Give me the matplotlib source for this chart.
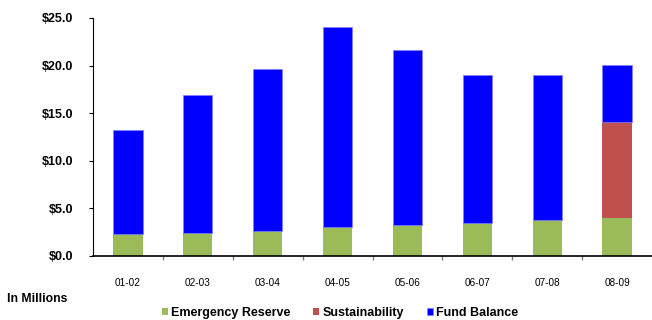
import matplotlib
matplotlib.use("Agg")
import matplotlib.pyplot as plt
import numpy as np
from matplotlib.ticker import FuncFormatter, FixedLocator

years = ["01-02", "02-03", "03-04", "04-05", "05-06", "06-07", "07-08", "08-09"]
emergency_reserve = [2.3, 2.45, 2.65, 3.0, 3.25, 3.5, 3.8, 4.0]
sustainability = [0, 0, 0, 0, 0, 0, 0, 10.1]
fund_balance = [10.9, 14.45, 16.95, 21.1, 18.35, 15.5, 15.2, 6.0]

green = "#9BBB59"
red = "#C0504D"
blue = "#0000FF"

plt.rcParams["font.family"] = ["Liberation Sans", "DejaVu Sans"]

fig = plt.figure(figsize=(6.52, 3.2), dpi=100)
ax = fig.add_axes([93 / 652, 1 - 256 / 320, 559 / 652, 238 / 320])

x = np.arange(len(years))
w = 0.42
ax.bar(x, emergency_reserve, w, color=green, label="Emergency Reserve")
ax.bar(x, sustainability, w, bottom=emergency_reserve, color=red, label="Sustainability")
bottom2 = np.array(emergency_reserve) + np.array(sustainability)
ax.bar(x, fund_balance, w, bottom=bottom2, color=blue, label="Fund Balance",
       edgecolor="#8080ff", linewidth=0.5)

ax.set_xlim(-0.5, len(years) - 0.5)
ax.set_ylim(0, 25)
ax.set_yticks(np.arange(0, 25.1, 5))
ax.yaxis.set_major_formatter(FuncFormatter(lambda v, p: f"${v:.1f}"))
for lab in ax.get_yticklabels():
    lab.set_fontweight("bold")
ax.tick_params(axis="y", labelsize=9, length=3, width=0.8, pad=11)

ax.set_xticks(x)
ax.set_xticklabels(years, fontsize=7.2)
ax.tick_params(axis="x", length=0, pad=15.5)
ax.xaxis.set_minor_locator(FixedLocator(np.arange(0.5, len(years) - 0.5, 1)))
ax.tick_params(axis="x", which="minor", length=3, width=1, color="#808080")

for s in ("top", "right"):
    ax.spines[s].set_visible(False)
ax.spines["left"].set_linewidth(0.8)
ax.spines["bottom"].set_linewidth(1.2)

fig.text(7 / 652, 1 - 299 / 320, "In Millions", fontsize=8.8, fontweight="bold",
         va="center", ha="left")

leg = fig.legend(loc="center", bbox_to_anchor=(340 / 652, 1 - 313 / 320), ncol=3,
                 frameon=False, handlelength=0.5, handleheight=0.5,
                 handletextpad=0.25, columnspacing=1.8,
                 prop={"weight": "bold", "size": 9})

fig.savefig("out.png", dpi=100)
